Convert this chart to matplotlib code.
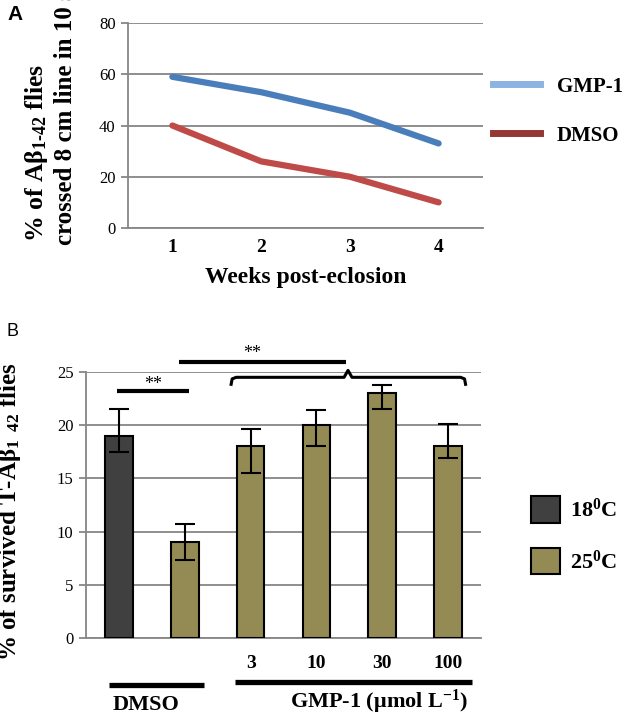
import numpy as np
import matplotlib
matplotlib.use("Agg")
import matplotlib.pyplot as plt
from matplotlib.lines import Line2D
from matplotlib.patches import Patch

plt.rcParams['font.family'] = ['Liberation Serif', 'DejaVu Serif']
plt.rcParams['mathtext.fontset'] = 'custom'
plt.rcParams['mathtext.rm'] = 'Liberation Serif'
plt.rcParams['mathtext.bf'] = 'Liberation Serif:bold'
plt.rcParams['mathtext.it'] = 'Liberation Serif:italic'
plt.rcParams['mathtext.default'] = 'bf'

# ---------------- data ----------------
weeks = [1, 2, 3, 4]
gmp1 = [59, 53, 45, 33]        # % crossed, GMP-1
dmso = [40, 26, 20, 10]        # % crossed, DMSO

groups = ['', '', '3', '10', '30', '100']
survived = [19, 9, 18, 20, 23, 18]
err_low = [1.5, 1.7, 2.5, 2.0, 1.5, 1.1]
err_high = [2.5, 1.7, 1.6, 1.4, 0.8, 2.1]
temps = ['18$^{0}$C', '25$^{0}$C', '25$^{0}$C', '25$^{0}$C', '25$^{0}$C', '25$^{0}$C']

grid_c = '#868686'
blue, red = '#4A7EBB', '#BE4B48'
dark, olive = '#404040', '#948A54'

W, H = 626, 715
fig = plt.figure(figsize=(W / 100, H / 100), dpi=100)

def style_axes(ax):
    for s in ['top', 'right']:
        ax.spines[s].set_visible(False)
    for s in ['left', 'bottom']:
        ax.spines[s].set_color(grid_c)
        ax.spines[s].set_linewidth(1.3)
    ax.yaxis.grid(True, color=grid_c, lw=1.3)
    ax.set_axisbelow(True)
    ax.tick_params(axis='y', length=5, width=1.3, color=grid_c, labelsize=12, pad=4)
    ax.tick_params(axis='x', length=0)

# ---------------- panel A ----------------
axA = fig.add_axes([128 / W, 1 - 228 / H, 355 / W, 205 / H])
style_axes(axA)
axA.plot(weeks, gmp1, color=blue, lw=4.5, solid_capstyle='round')
axA.plot(weeks, dmso, color=red, lw=4.5, solid_capstyle='round')
axA.set_xlim(0.5, 4.5)
axA.set_ylim(0, 80)
axA.set_yticks(np.arange(0, 81, 20))
axA.set_xticks(weeks)
axA.set_xticklabels([str(w) for w in weeks], fontsize=14, fontweight='bold')
axA.tick_params(axis='x', pad=8)
axA.set_xlabel('Weeks post-eclosion', fontsize=17, fontweight='bold', labelpad=8)
axA.legend(handles=[Line2D([], [], color='#8DB3E2', lw=5),
                    Line2D([], [], color='#953735', lw=5)],
           labels=['GMP-1', 'DMSO'], loc='center left',
           bbox_to_anchor=(0.975, 0.57), frameon=False,
           prop={'family': 'Liberation Serif', 'weight': 'bold', 'size': 15},
           handlelength=2.26, handletextpad=0.8, labelspacing=1.4)
fig.text(37 / W, 1 - 242 / H, '% of A\u03b2$_{1\u201042}$ flies', rotation=90,
         rotation_mode='anchor', ha='left', va='center', fontsize=18.5, fontweight='bold')
fig.text(66 / W, 1 - 245 / H, 'crossed 8 cm line in 10 s', rotation=90,
         rotation_mode='anchor', ha='left', va='center', fontsize=18, fontweight='bold')
fig.text(7 / W, 1 - 14 / H, 'A', family='Liberation Sans', fontweight='bold',
         fontsize=15, va='center')

# ---------------- panel B ----------------
axB = fig.add_axes([86 / W, 1 - 638 / H, 395 / W, 266 / H])
style_axes(axB)
x = np.arange(len(survived))
colors = [dark if t.startswith('18') else olive for t in temps]
axB.bar(x, survived, width=0.42, color=colors, edgecolor='black', lw=1.5, zorder=3)
axB.errorbar(x, survived, yerr=[err_low, err_high], fmt='none', ecolor='black',
             elinewidth=1.5, capsize=7, capthick=1.5, zorder=4)
axB.set_xlim(-0.5, 5.5)
axB.set_ylim(0, 25)
axB.set_yticks(np.arange(0, 26, 5))
axB.set_xticks(x)
axB.set_xticklabels(groups, fontsize=14, fontweight='bold')
axB.tick_params(axis='x', pad=12)

kw = dict(color='black', clip_on=False, solid_capstyle='butt')
# significance: DMSO 18 vs 25
axB.plot([-0.03, 1.06], [23.2, 23.2], lw=3, **kw)
axB.text(0.52, 23.85, '**', ha='center', va='center', fontsize=13, clip_on=False)
# significance: DMSO 25 vs GMP-1
axB.plot([0.92, 3.45], [25.9, 25.9], lw=3, **kw)
axB.text(2.03, 26.7, '**', ha='center', va='center', fontsize=13, clip_on=False)
# brace over GMP-1 bars
bx = [1.70, 1.72, 1.78, 3.42, 3.48, 3.54, 5.19, 5.25, 5.27]
by = [23.7, 24.35, 24.5, 24.5, 25.15, 24.5, 24.5, 24.35, 23.7]
axB.plot(bx, by, lw=2.2, **kw)
# group bars under the axis
axB.plot([-0.15, 1.29], [-4.4, -4.4], lw=3.8, **kw)
axB.plot([1.77, 5.36], [-4.15, -4.15], lw=3.8, **kw)
axB.text(0.41, -6.3, 'DMSO', ha='center', va='center', fontsize=16,
         fontweight='bold', clip_on=False)
axB.text(3.95, -6.0, 'GMP-1 (\u03bcmol L$^{-1}$)', ha='center', va='center',
         fontsize=16, fontweight='bold', clip_on=False)

axB.legend(handles=[Patch(facecolor=dark, edgecolor='black', lw=1.5),
                    Patch(facecolor=olive, edgecolor='black', lw=1.5)],
           labels=['18$^{0}$C', '25$^{0}$C'], loc='center left',
           bbox_to_anchor=(1.077, 0.386), frameon=False,
           prop={'family': 'Liberation Serif', 'weight': 'bold', 'size': 16},
           handlelength=1.3, handleheight=1.45, handletextpad=0.45, labelspacing=1.15)
fig.text(10 / W, 1 - 512 / H, '% of survived T-A\u03b2$_{1\\ \\ 42}$ flies',
         rotation=90, ha='center', va='center', fontsize=18, fontweight='bold')
fig.text(7 / W, 1 - 331 / H, 'B', family='Liberation Sans', fontsize=13, va='center')

fig.savefig('out.png', dpi=100)
